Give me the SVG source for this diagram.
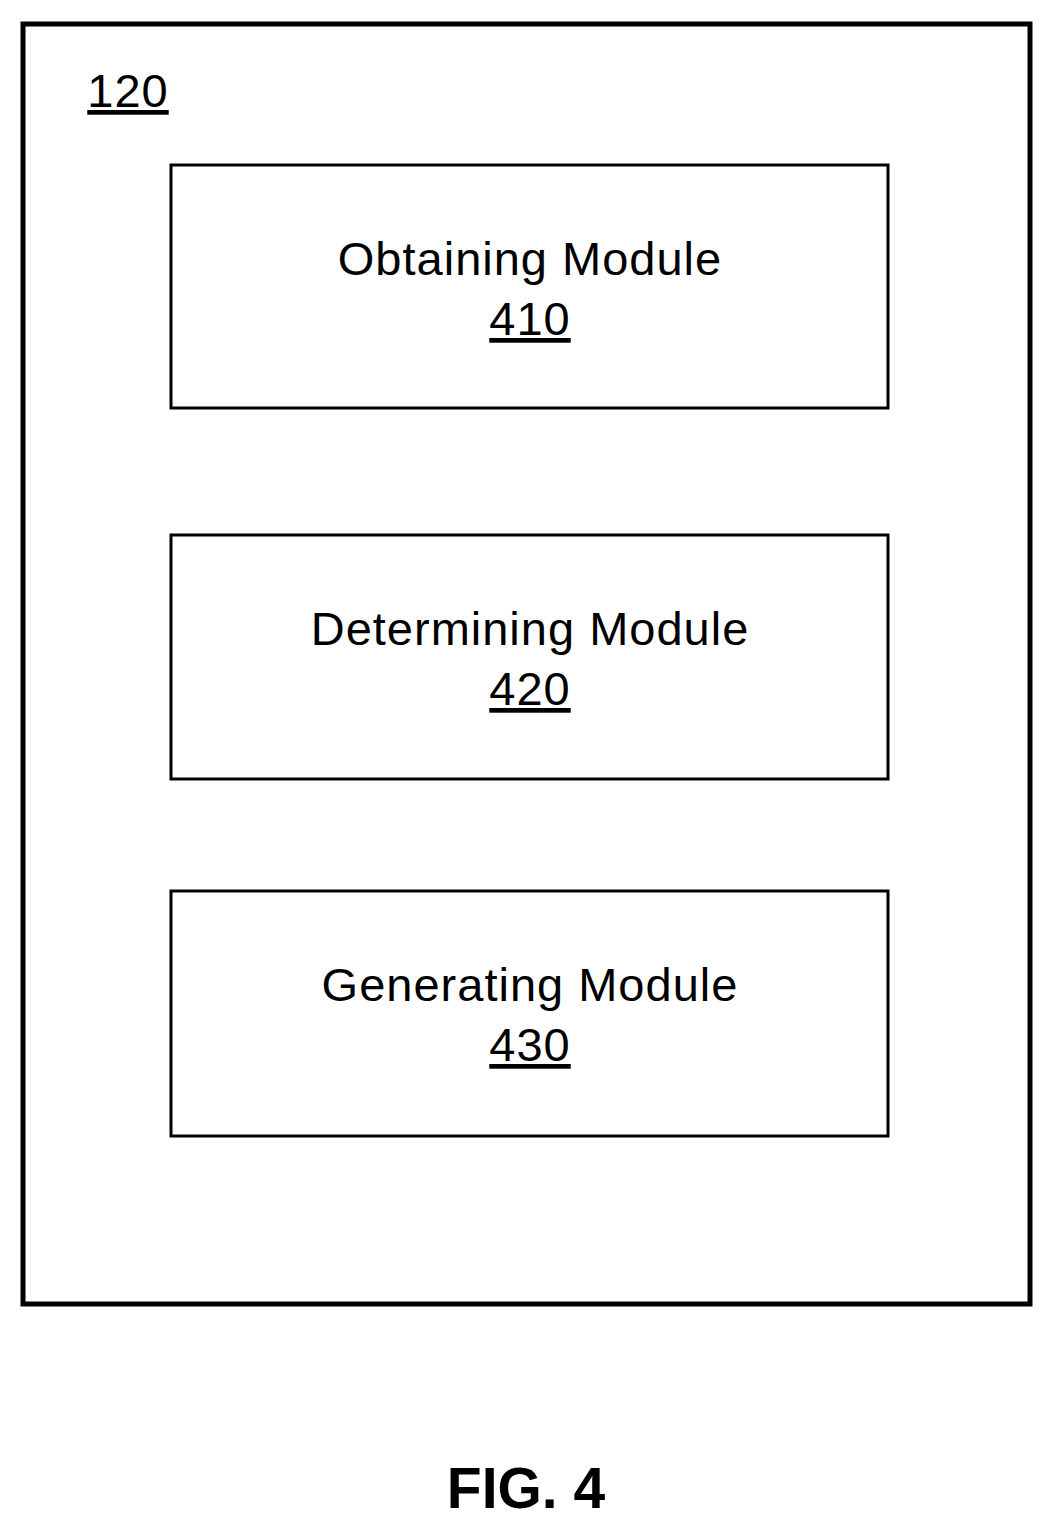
<svg xmlns="http://www.w3.org/2000/svg" width="1054" height="1531" viewBox="0 0 1054 1531">
<style>
.b{fill:#fff;stroke:#000;stroke-width:3}
text{font-family:"Liberation Sans",Arial,sans-serif;font-size:47px;letter-spacing:1px;fill:#000;text-anchor:middle}
.u{text-decoration:underline}
</style>
<rect width="1054" height="1531" fill="#fff"/>
<g id="n120"><rect x="23" y="24" width="1007" height="1280" fill="none" stroke="#000" stroke-width="5"/>
<text x="128" y="107" class="u">120</text></g>
<g id="n410"><rect class="b" x="171" y="165" width="717" height="243"/><text x="530" y="275">Obtaining Module</text><text x="530" y="335" class="u">410</text></g>
<g id="n420"><rect class="b" x="171" y="535" width="717" height="244"/><text x="530" y="645">Determining Module</text><text x="530" y="705" class="u">420</text></g>
<g id="n430"><rect class="b" x="171" y="891" width="717" height="245"/><text x="530" y="1001">Generating Module</text><text x="530" y="1061" class="u">430</text></g>
<g id="connectors"/>
<text x="526" y="1508" style="font-weight:bold;font-size:57px;letter-spacing:0">FIG. 4</text>
</svg>
